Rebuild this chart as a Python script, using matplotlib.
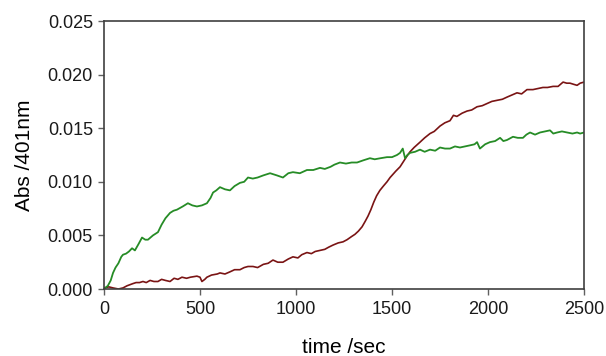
import matplotlib
matplotlib.use("Agg")
import matplotlib.pyplot as plt

plt.rcParams['font.family'] = ['Liberation Sans', 'DejaVu Sans']
plt.rcParams['text.color'] = '#1a1a1a'
plt.rcParams['xtick.labelcolor'] = '#1a1a1a'
plt.rcParams['ytick.labelcolor'] = '#1a1a1a'

# Absorbance at 401 nm versus time for two runs
green_t = [0, 20, 35, 47, 60, 75, 90, 99, 115, 130, 146, 161, 180, 198, 215, 229, 255, 281,
           300, 320, 344, 362, 380, 410, 437, 460, 484, 510, 536, 555, 568, 585, 604, 630,
           656, 680, 708, 730, 750, 775, 800, 830, 865, 900, 932, 960, 984, 1020, 1057,
           1090, 1125, 1150, 1180, 1200, 1229, 1260, 1290, 1318, 1350, 1385, 1410, 1440,
           1474, 1500, 1526, 1542, 1556, 1568, 1580, 1594, 1620, 1646, 1670, 1698, 1725,
           1750, 1776, 1802, 1828, 1854, 1880, 1906, 1930, 1943, 1958, 1985, 2010, 2037,
           2063, 2080, 2099, 2130, 2155, 2182, 2200, 2219, 2245, 2271, 2297, 2323, 2340,
           2360, 2385, 2412, 2440, 2464, 2480, 2500]
green_abs = [0.0000, 0.0003, 0.0008, 0.0015, 0.0020, 0.0024, 0.0030, 0.0032, 0.0033, 0.0035,
             0.0038, 0.0036, 0.0042, 0.0048, 0.0046, 0.0046, 0.0050, 0.0053, 0.0060, 0.0066,
             0.0071, 0.0073, 0.0074, 0.0077, 0.0080, 0.0078, 0.0077, 0.0078, 0.0080, 0.0085,
             0.0090, 0.0092, 0.0095, 0.0093, 0.0092, 0.0096, 0.0099, 0.0100, 0.0104, 0.0103,
             0.0104, 0.0106, 0.0108, 0.0106, 0.0104, 0.0108, 0.0109, 0.0108, 0.0111, 0.0111,
             0.0113, 0.0112, 0.0114, 0.0116, 0.0118, 0.0117, 0.0118, 0.0118, 0.0120, 0.0122,
             0.0121, 0.0122, 0.0123, 0.0123, 0.0125, 0.0127, 0.0131, 0.0122, 0.0125, 0.0127,
             0.0128, 0.0130, 0.0128, 0.0130, 0.0129, 0.0132, 0.0131, 0.0131, 0.0133, 0.0132,
             0.0133, 0.0134, 0.0135, 0.0137, 0.0131, 0.0135, 0.0137, 0.0138, 0.0141, 0.0138,
             0.0139, 0.0142, 0.0141, 0.0141, 0.0144, 0.0146, 0.0144, 0.0146, 0.0147, 0.0148,
             0.0145, 0.0146, 0.0147, 0.0146, 0.0145, 0.0146, 0.0145, 0.0146]

red_t = [0, 25, 47, 75, 99, 120, 135, 150, 167, 185, 203, 220, 240, 260, 281, 300, 320, 344,
         365, 385, 406, 430, 450, 484, 500, 510, 525, 536, 560, 590, 604, 630, 656, 680, 708,
         730, 750, 776, 800, 830, 855, 880, 905, 932, 960, 984, 1010, 1030, 1057, 1080, 1100,
         1125, 1150, 1170, 1193, 1220, 1245, 1266, 1290, 1307, 1325, 1344, 1360, 1375, 1390,
         1405, 1420, 1437, 1455, 1474, 1490, 1505, 1520, 1542, 1560, 1578, 1594, 1615, 1646,
         1670, 1698, 1720, 1750, 1775, 1802, 1820, 1838, 1865, 1891, 1915, 1943, 1970, 1995,
         2020, 2047, 2075, 2099, 2125, 2151, 2175, 2203, 2234, 2260, 2286, 2310, 2339, 2365,
         2391, 2410, 2427, 2445, 2464, 2480, 2500]
red_abs = [0.0001, 0.0002, 0.0001, 0.0000, 0.0001, 0.0003, 0.0004, 0.0005, 0.0006, 0.0006,
           0.0007, 0.0006, 0.0008, 0.0007, 0.0007, 0.0009, 0.0008, 0.0007, 0.0010, 0.0009,
           0.0011, 0.0010, 0.0011, 0.0012, 0.0011, 0.0007, 0.0009, 0.0011, 0.0013, 0.0014,
           0.0015, 0.0014, 0.0016, 0.0018, 0.0018, 0.0020, 0.0021, 0.0021, 0.0020, 0.0023,
           0.0024, 0.0027, 0.0025, 0.0025, 0.0028, 0.0030, 0.0029, 0.0032, 0.0034, 0.0033,
           0.0035, 0.0036, 0.0037, 0.0039, 0.0041, 0.0043, 0.0044, 0.0046, 0.0049, 0.0051,
           0.0054, 0.0058, 0.0063, 0.0068, 0.0074, 0.0081, 0.0087, 0.0092, 0.0096, 0.0100,
           0.0104, 0.0107, 0.0110, 0.0114, 0.0119, 0.0124, 0.0128, 0.0132, 0.0137, 0.0141,
           0.0145, 0.0147, 0.0152, 0.0155, 0.0157, 0.0162, 0.0161, 0.0164, 0.0166, 0.0167,
           0.0170, 0.0171, 0.0173, 0.0175, 0.0176, 0.0177, 0.0179, 0.0181, 0.0183, 0.0182,
           0.0186, 0.0186, 0.0187, 0.0188, 0.0188, 0.0189, 0.0189, 0.0193, 0.0192, 0.0192,
           0.0191, 0.0190, 0.0192, 0.0193]

x_ticks = [0, 500, 1000, 1500, 2000, 2500]
y_ticks = [0.000, 0.005, 0.010, 0.015, 0.020, 0.025]

fig = plt.figure(figsize=(6.06, 3.56), dpi=100)
ax = fig.add_axes([104 / 606, 1 - 289 / 356, 480 / 606, 268 / 356])

ax.plot(red_t, red_abs, color='#7a1414', lw=1.2)
ax.plot(green_t, green_abs, color='#268c26', lw=1.3)

ax.set_xlim(0, 2500)
ax.set_ylim(0, 0.025)
ax.set_xticks(x_ticks)
ax.set_xticklabels([str(v) for v in x_ticks])
ax.set_yticks(y_ticks)
ax.set_yticklabels([f"{v:.3f}" for v in y_ticks])

for s in ax.spines.values():
    s.set_color('#404040')
    s.set_linewidth(1.2)
ax.tick_params(direction='out', length=4, width=1.0, color='#606060',
               labelsize=13, top=False, right=False)
ax.tick_params(axis='x', pad=5)
ax.tick_params(axis='y', pad=4)

ax.set_xlabel('time /sec', fontsize=15, labelpad=14)
ax.set_ylabel('Abs /401nm', fontsize=15, labelpad=10)

fig.savefig('out.png', dpi=100)
